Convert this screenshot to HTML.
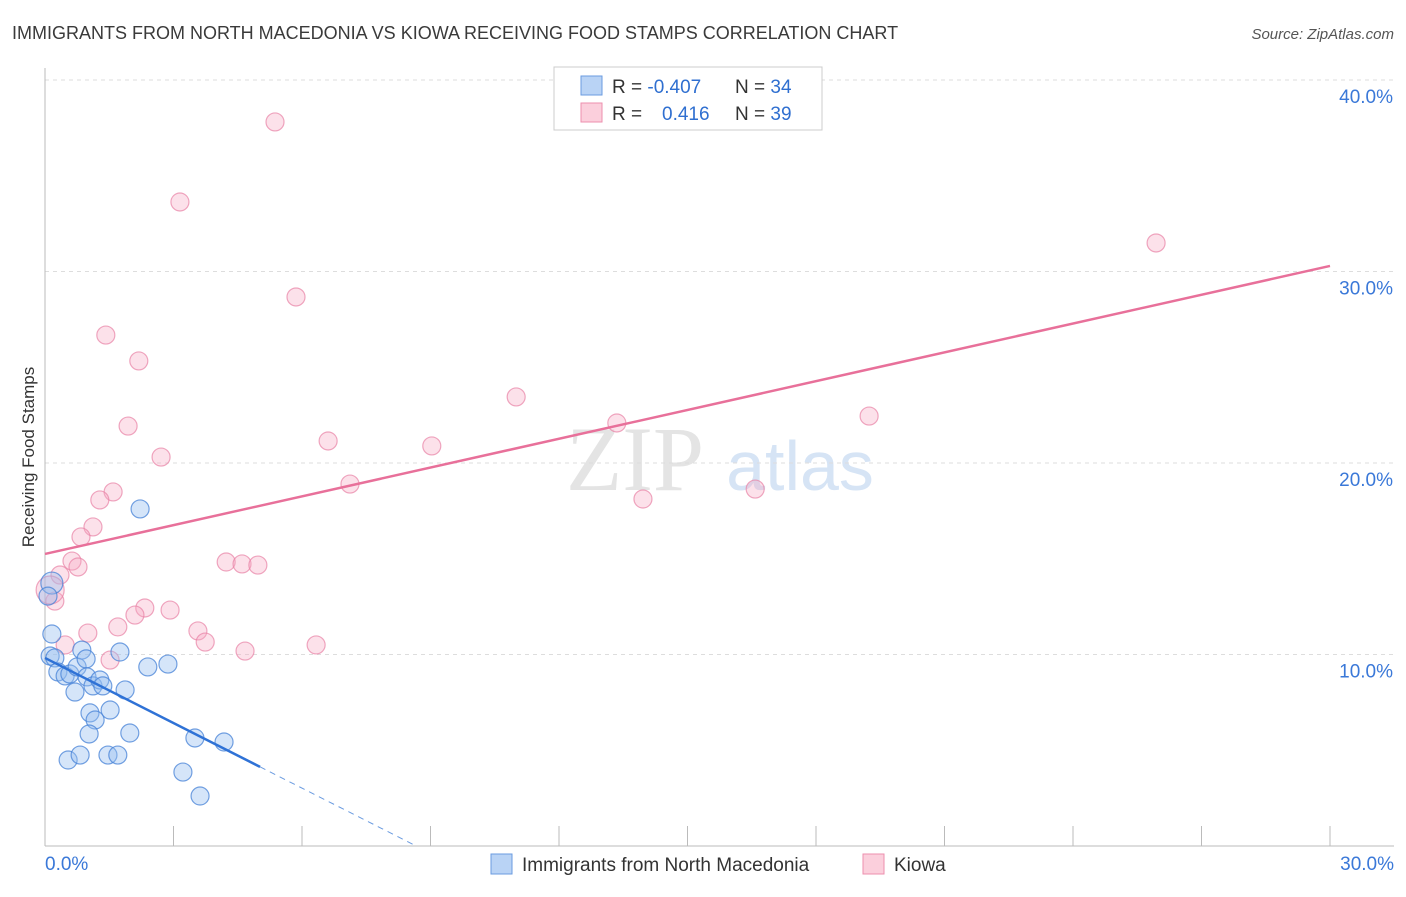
<!DOCTYPE html>
<html><head><meta charset="utf-8"><style>
body{margin:0;background:#fff;font-family:"Liberation Sans",sans-serif}
</style></head><body>
<svg id="chart" width="1406" height="892" xmlns="http://www.w3.org/2000/svg" font-family="Liberation Sans, sans-serif">
<text x="12" y="39" font-size="18" fill="#3a3a3a">IMMIGRANTS FROM NORTH MACEDONIA VS KIOWA RECEIVING FOOD STAMPS CORRELATION CHART</text>
<text x="1394" y="39" font-size="15" fill="#555" text-anchor="end" font-style="italic">Source: ZipAtlas.com</text>
<text transform="translate(34,457) rotate(-90)" font-size="17" fill="#333" text-anchor="middle">Receiving Food Stamps</text>
<g>
<text x="635" y="490" font-size="92" fill="#e4e4e4" text-anchor="middle" font-family="Liberation Serif, serif">ZIP</text>
<text x="800" y="490" font-size="70" fill="#d6e4f5" text-anchor="middle">atlas</text>
</g>
<g id="grid"></g>
<g id="axes"></g>
<g id="marks"></g>
<g>
<rect x="554" y="67" width="268" height="63" fill="#fff" stroke="#ccc"/>
<rect x="581" y="76" width="21" height="19" fill="#b9d3f5" stroke="#6a9be0"/>
<rect x="581" y="103" width="21" height="19" fill="#fbcfdc" stroke="#ec8fae"/>
<text x="612" y="93" font-size="19" fill="#333">R = <tspan fill="#2f6fd0">-0.407</tspan><tspan x="735">N = </tspan><tspan fill="#2f6fd0">34</tspan></text>
<text x="612" y="120" font-size="19" fill="#333">R = <tspan x="662" fill="#2f6fd0">0.416</tspan><tspan x="735">N = </tspan><tspan fill="#2f6fd0">39</tspan></text>
</g>
<g>
<rect x="491" y="854" width="21" height="20" fill="#b9d3f5" stroke="#6a9be0"/>
<text x="522" y="871" font-size="19" fill="#333">Immigrants from North Macedonia</text>
<rect x="863" y="854" width="21" height="20" fill="#fbcfdc" stroke="#ec8fae"/>
<text x="894" y="871" font-size="19" fill="#333">Kiowa</text>
</g>
</svg>
<script>
const blueX=[2.22,0.16,0.07,0.16,0.12,0.23,0.30,0.47,0.58,0.70,0.75,0.86,0.96,0.98,1.05,1.17,1.03,1.12,1.28,1.35,1.52,1.75,1.87,1.47,1.98,2.40,2.87,3.50,4.18,3.22,3.62,0.54,0.82,1.70];
const blueY=[17.6,13.73,13.05,11.07,9.92,9.82,9.09,8.88,8.98,8.04,9.35,10.23,9.77,8.83,6.95,6.58,5.85,8.36,8.67,8.36,7.10,10.13,8.15,4.75,5.90,9.35,9.50,5.64,5.43,3.86,2.61,4.49,4.75,4.75];
const pinkX=[5.37,3.15,5.86,1.42,2.19,1.94,2.71,6.61,9.03,11.00,13.35,19.24,25.94,7.12,13.96,16.58,1.59,1.28,1.12,0.84,0.63,0.77,0.35,0.23,4.23,4.60,4.97,2.33,2.10,2.92,3.57,3.74,1.00,1.70,0.47,1.52,4.67,6.33,0.12];
const pinkY=[37.81,33.63,28.67,26.68,25.33,21.93,20.31,21.15,20.89,23.45,22.09,22.45,31.49,18.90,18.12,18.64,18.49,18.07,16.66,16.14,14.88,14.57,14.15,12.79,14.83,14.73,14.67,12.43,12.06,12.32,11.23,10.65,11.12,11.44,10.50,9.71,10.18,10.50,13.37];
const yTicks=[10,20,30,40];
const yTickLabels=["10.0%","20.0%","30.0%","40.0%"];
const xTicks=[3,6,9,12,15,18,21,24,27,30];
const pinkTrend=[15.25,30.29]; // at x=0 and x=30
const blueTrend=[9.82,-0.1133]; // intercept, slope
const blueSolidEnd=5.02, blueDashEnd=8.67;
const NS="http://www.w3.org/2000/svg";
const sx=v=>45+v*(1285/30), sy=v=>846-v*19.15;
function mk(p,t,a){const e=document.createElementNS(NS,t);for(const k in a)e.setAttribute(k,a[k]);document.getElementById(p).appendChild(e);return e;}
yTicks.forEach((t,i)=>{
 const l=mk('grid','line',{x1:45,x2:1394,y1:sy(t),y2:sy(t),stroke:'#ddd','stroke-dasharray':'4,4'});
 
 
 const tx=mk('grid','text',{x:1393,y:sy(t)+23,'font-size':19,fill:'#3a78d8','text-anchor':'end'});
 tx.textContent=yTickLabels[i];
 
 
});
let a=mk('axes','line',{x1:45,x2:45,y1:68,y2:846,stroke:'#bbb'});


a=mk('axes','line',{x1:45,x2:1394,y1:846,y2:846,stroke:'#bbb'});


xTicks.forEach(t=>{
 const l=mk('axes','line',{x1:sx(t),x2:sx(t),y1:826,y2:846,stroke:'#bbb'});
 
 
});
let xl=mk('axes','text',{x:45,y:870,'font-size':19,fill:'#3a78d8'});xl.textContent='0.0%';


xl=mk('axes','text',{x:1394,y:870,'font-size':19,fill:'#3a78d8','text-anchor':'end'});xl.textContent='30.0%';


pinkX.forEach((x,i)=>{
 const big=i===pinkX.length-1;
 const c=mk('marks','circle',{cx:sx(x),cy:sy(pinkY[i]),r:big?14:9,fill:'rgba(246,170,195,0.35)',stroke:'rgba(232,130,165,0.7)','stroke-width':1.2});
 
 
});
blueX.forEach((x,i)=>{
 const c=mk('marks','circle',{cx:sx(x),cy:sy(blueY[i]),r:i===1?11:9,fill:'rgba(150,190,240,0.4)',stroke:'rgba(70,130,215,0.75)','stroke-width':1.2});
 
 
});
let t=mk('marks','line',{x1:sx(0),y1:sy(pinkTrend[0]),x2:sx(30),y2:sy(pinkTrend[1]),stroke:'#e8709a','stroke-width':2.5});


t=mk('marks','line',{x1:sx(0),y1:sy(blueTrend[0]),x2:sx(blueSolidEnd),y2:sy(blueTrend[0]+blueTrend[1]*blueSolidEnd*10),stroke:'#2f72d6','stroke-width':2.5});


t=mk('marks','line',{x1:sx(blueSolidEnd),y1:sy(blueTrend[0]+blueTrend[1]*blueSolidEnd*10),x2:sx(blueDashEnd),y2:sy(blueTrend[0]+blueTrend[1]*blueDashEnd*10),stroke:'#6a9be0','stroke-width':1,'stroke-dasharray':'6,5'});


</script>
</body></html>
